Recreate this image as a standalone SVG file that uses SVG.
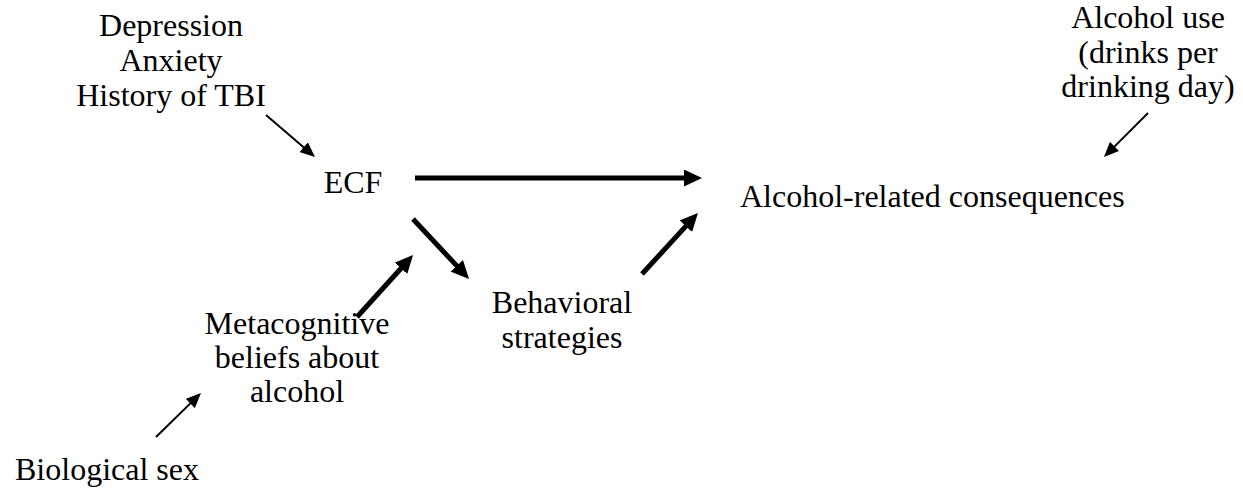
<svg xmlns="http://www.w3.org/2000/svg" width="1243" height="502" viewBox="0 0 1243 502">
<style>
text{font-family:'Liberation Serif','Times New Roman',serif;font-size:32px;fill:#000}
.c{text-anchor:middle}
.thick{stroke:#000;stroke-width:5;fill:none;marker-end:url(#hk)}
.thin{stroke:#000;stroke-width:2;fill:none;marker-end:url(#hn)}
</style>
<defs>
<marker id="hk" markerUnits="userSpaceOnUse" viewBox="0 0 18 17" markerWidth="18" markerHeight="17" refX="9" refY="8.5" orient="auto"><path d="M0,0 L18,8.5 L0,17 z" fill="#000"/></marker>
<marker id="hn" markerUnits="userSpaceOnUse" viewBox="0 0 15 13" markerWidth="15" markerHeight="13" refX="8" refY="6.5" orient="auto"><path d="M0,0 L15,6.5 L0,13 z" fill="#000"/></marker>
</defs>
<rect width="1243" height="502" fill="#fff"/>
<g id="connectors">
<line class="thin" x1="266" y1="115" x2="309.7" y2="152.4"/>
<line class="thick" x1="415" y1="178" x2="693" y2="178"/>
<line class="thick" x1="413" y1="219" x2="462.9" y2="272.4"/>
<line class="thick" x1="642" y1="274" x2="691.9" y2="219.6"/>
<line class="thick" x1="357" y1="317" x2="407" y2="261.7"/>
<line class="thin" x1="156" y1="437" x2="196" y2="397.9"/>
<line class="thin" x1="1148" y1="113" x2="1108.9" y2="152.1"/>
</g>
<g id="covariates"><text class="c" x="171" y="36">Depression</text><text class="c" x="171" y="71">Anxiety</text><text class="c" x="171" y="106">History of TBI</text></g>
<g id="ecf"><text class="c" x="353" y="193">ECF</text></g>
<g id="consequences"><text x="740" y="207">Alcohol-related consequences</text></g>
<g id="alcohol-use"><text class="c" x="1148" y="28">Alcohol use</text><text class="c" x="1148" y="63">(drinks per</text><text class="c" x="1148" y="97">drinking day)</text></g>
<g id="behavioral"><text class="c" x="562" y="313">Behavioral</text><text class="c" x="562" y="348">strategies</text></g>
<g id="metacognitive"><text class="c" x="297" y="334">Metacognitive</text><text class="c" x="297" y="368">beliefs about</text><text class="c" x="297" y="402">alcohol</text></g>
<g id="sex"><text x="15" y="480">Biological sex</text></g>
</svg>
